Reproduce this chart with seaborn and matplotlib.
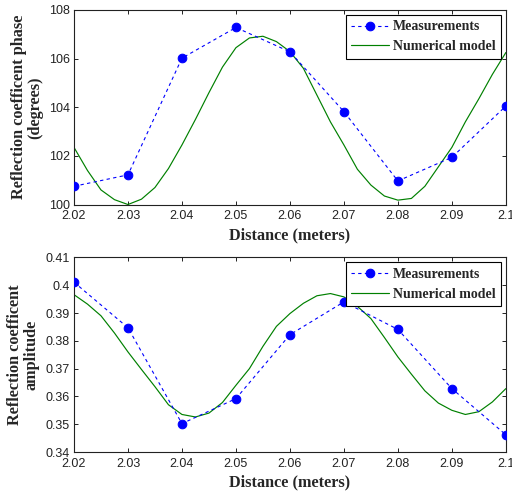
import numpy as np
import pandas as pd
import matplotlib
matplotlib.use("Agg")
import matplotlib.pyplot as plt
import seaborn as sns

# ---- data ----
meas_x = [2.02, 2.03, 2.04, 2.05, 2.06, 2.07, 2.08, 2.09, 2.10]
phase_meas = [100.75, 101.22, 106.02, 107.28, 106.28, 103.82, 100.97, 101.94, 104.05]
amp_meas = [0.4011, 0.3847, 0.3502, 0.3592, 0.3822, 0.3940, 0.3841, 0.3628, 0.3462]

model_x = [2.0200, 2.0225, 2.0250, 2.0275, 2.0300, 2.0325, 2.0350, 2.0375, 2.0400,
           2.0425, 2.0450, 2.0475, 2.0500, 2.0525, 2.0550, 2.0575, 2.0600, 2.0625,
           2.0650, 2.0675, 2.0700, 2.0725, 2.0750, 2.0775, 2.0800, 2.0825, 2.0850,
           2.0875, 2.0900, 2.0925, 2.0950, 2.0975, 2.1000]
phase_model = [102.35, 101.40, 100.60, 100.20, 100.00, 100.22, 100.70, 101.48, 102.45,
               103.50, 104.60, 105.65, 106.45, 106.85, 106.92, 106.70, 106.29, 105.60,
               104.50, 103.40, 102.45, 101.45, 100.80, 100.35, 100.18, 100.25, 100.75,
               101.55, 102.35, 103.40, 104.35, 105.35, 106.25]
amp_model = [0.3966, 0.3932, 0.3890, 0.3828, 0.3760, 0.3697, 0.3635, 0.3570, 0.3535,
             0.3526, 0.3540, 0.3578, 0.3640, 0.3700, 0.3780, 0.3852, 0.3898, 0.3935,
             0.3962, 0.3970, 0.3958, 0.3924, 0.3880, 0.3812, 0.3742, 0.3680, 0.3620,
             0.3576, 0.3550, 0.3535, 0.3545, 0.3580, 0.3628]

x_ticks = [2.02, 2.03, 2.04, 2.05, 2.06, 2.07, 2.08, 2.09, 2.10]
x_ticklabels = ["2.02", "2.03", "2.04", "2.05", "2.06", "2.07", "2.08", "2.09", "2.1"]
phase_ticks = [100, 102, 104, 106, 108]
amp_ticks = [0.34, 0.35, 0.36, 0.37, 0.38, 0.39, 0.40, 0.41]
amp_ticklabels = ["0.34", "0.35", "0.36", "0.37", "0.38", "0.39", "0.4", "0.41"]

xlabel = "Distance (meters)"
phase_ylabel = "Reflection coefficent phase\n(degrees)"
amp_ylabel = "Reflection coefficent\namplitude"
lbl_meas = "Measurements"
lbl_model = "Numerical model"

# ---- style ----
sns.set_style("ticks")
plt.rcParams["font.family"] = ["Liberation Sans", "DejaVu Sans"]

fig = plt.figure(figsize=(5.12, 4.92), dpi=100)
ax1 = fig.add_axes([0.1445, 0.5843, 0.8435, 0.3954])
ax2 = fig.add_axes([0.1445, 0.0813, 0.8435, 0.3955])

serif_bold = dict(family="Liberation Serif", weight="bold")


def draw(ax, meas, model, ticks, ticklabels, ylim, ylabel):
    dm = pd.DataFrame({"x": meas_x, "y": meas})
    dmod = pd.DataFrame({"x": model_x, "y": model})
    sns.lineplot(data=dm, x="x", y="y", ax=ax, color="#0000ff", linewidth=0.8,
                 linestyle=(0, (3, 3)), marker="o", markersize=6.2,
                 markeredgecolor="#0000ff", markerfacecolor="#0000ff",
                 label=lbl_meas, zorder=3)
    sns.lineplot(data=dmod, x="x", y="y", ax=ax, color="#008000", linewidth=0.85,
                 label=lbl_model, zorder=2)
    ax.set_xlim(2.02, 2.10)
    ax.set_ylim(*ylim)
    ax.set_xticks(x_ticks)
    ax.set_xticklabels(x_ticklabels)
    ax.set_yticks(ticks)
    ax.set_yticklabels(ticklabels)
    ax.tick_params(direction="in", length=3, width=0.7, top=True, right=True,
                   labelsize=9, colors="#222222")
    ax.tick_params(axis="x", pad=4)
    ax.tick_params(axis="y", pad=3)
    for s in ax.spines.values():
        s.set_visible(True)
        s.set_linewidth(0.8)
        s.set_color("#222222")
    ax.set_xlabel(xlabel, fontsize=11.7, labelpad=3.5, **serif_bold)
    ax.set_ylabel(ylabel, fontsize=11.7, labelpad=4, linespacing=1.05, **serif_bold)
    leg = ax.legend(loc="upper right", frameon=True, fancybox=False,
                    edgecolor="black", framealpha=1,
                    prop=dict(family="Liberation Serif", weight="bold", size=10),
                    handlelength=2.7, borderpad=0.4, labelspacing=0.5,
                    handletextpad=0.3, borderaxespad=0.35)
    leg.get_frame().set_linewidth(0.8)


draw(ax1, phase_meas, phase_model, phase_ticks, [str(t) for t in phase_ticks],
     (100, 108), phase_ylabel)
draw(ax2, amp_meas, amp_model, amp_ticks, amp_ticklabels, (0.34, 0.41), amp_ylabel)

fig.savefig("out.png", dpi=100)
